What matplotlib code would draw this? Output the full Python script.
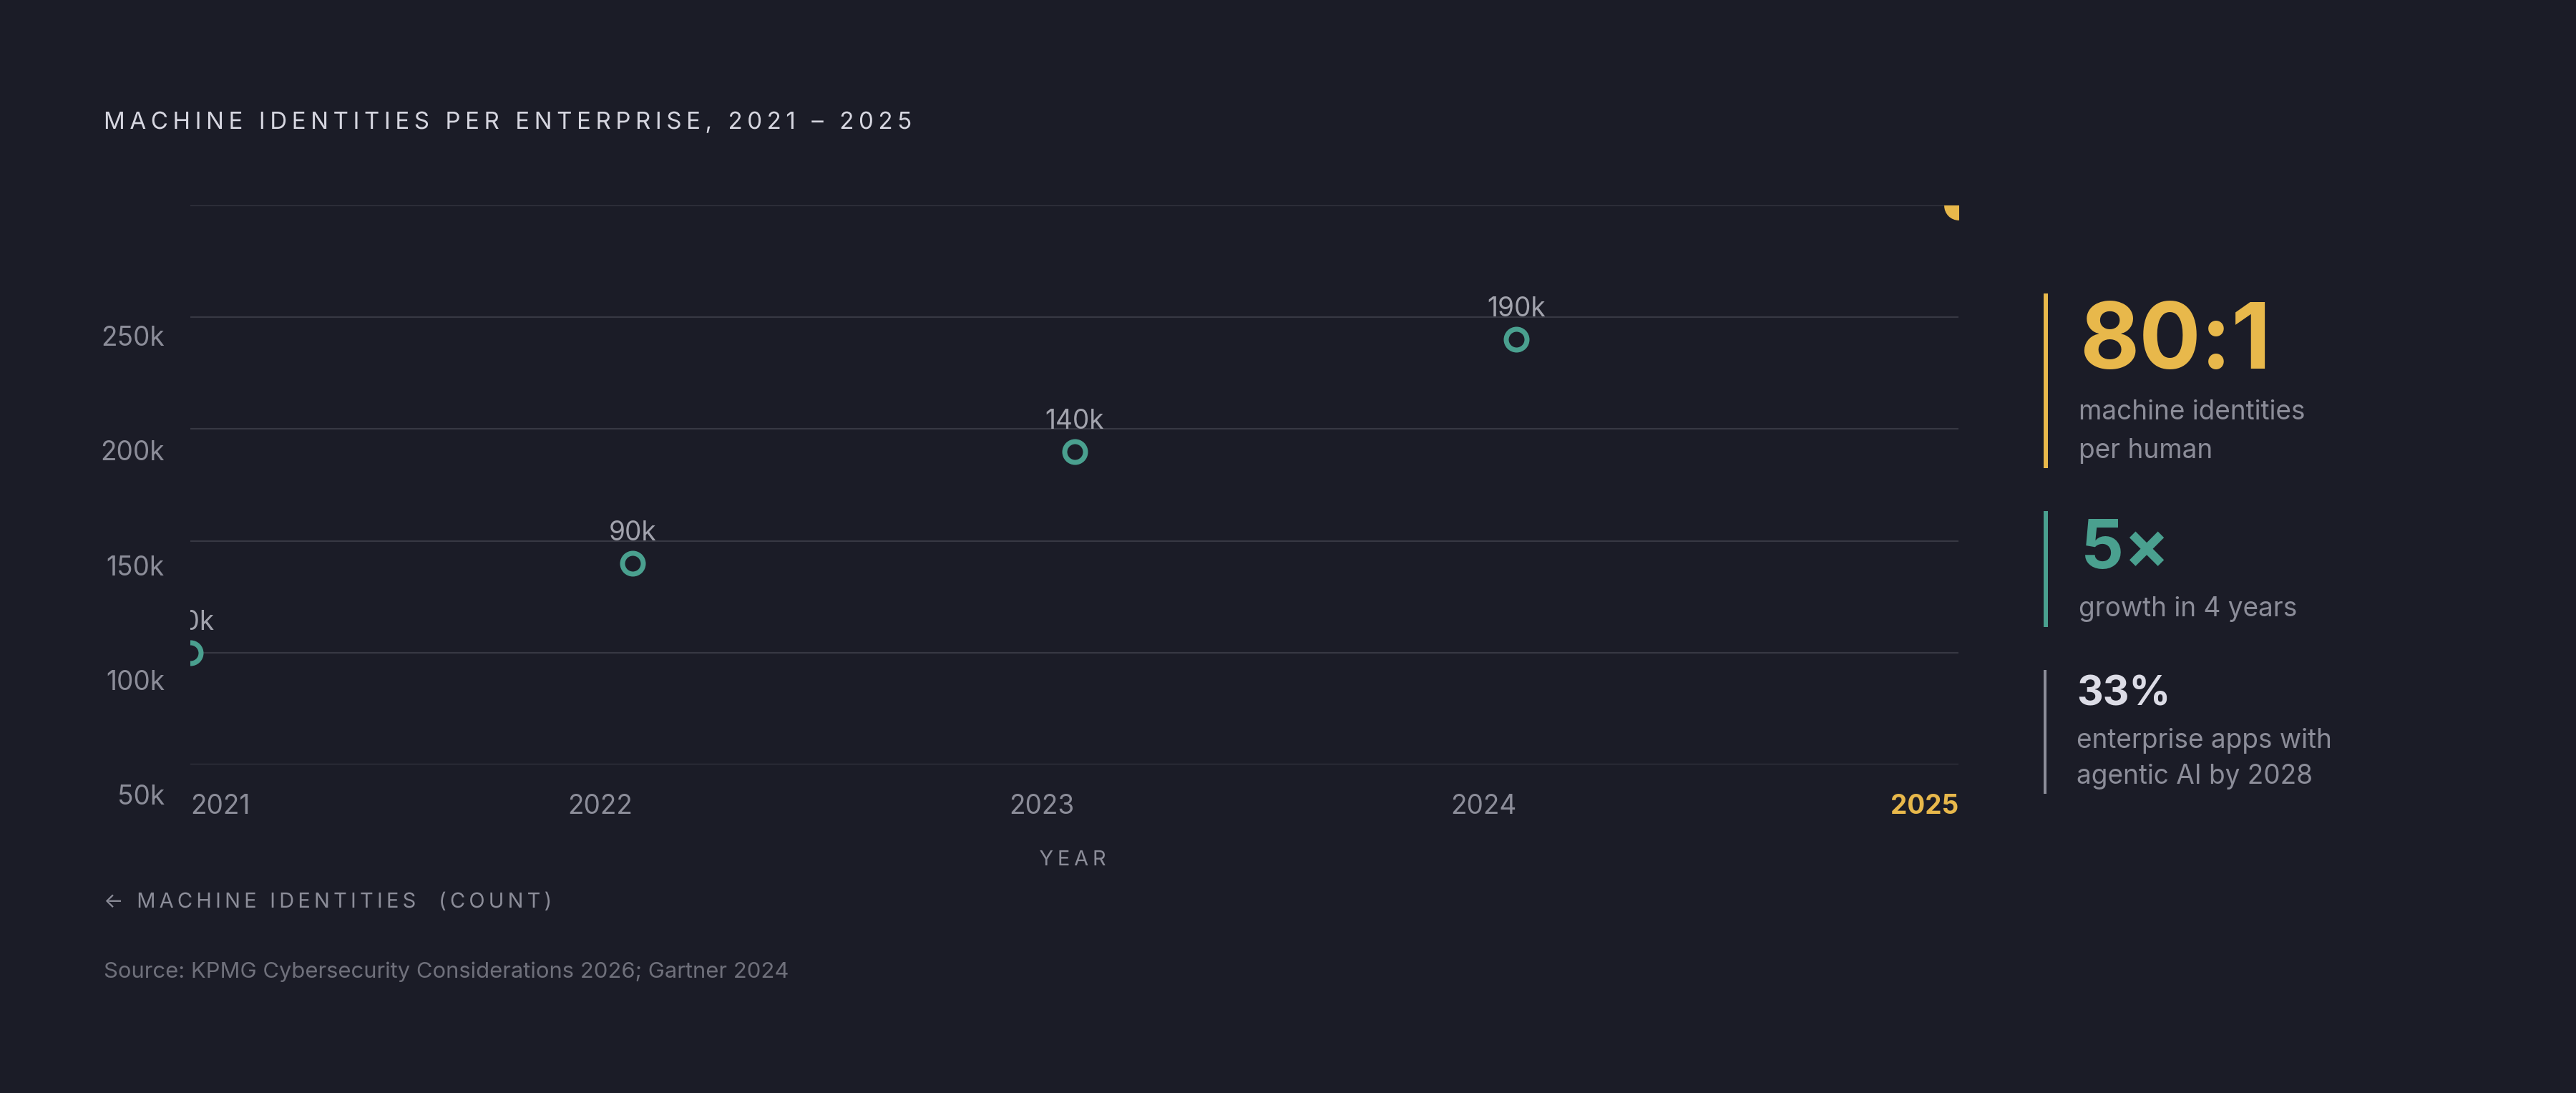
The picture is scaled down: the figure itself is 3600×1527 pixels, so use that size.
import matplotlib
matplotlib.use("Agg")
import numpy as np
import matplotlib.pyplot as plt
import matplotlib.transforms as mtransforms
from matplotlib.patches import Rectangle
from matplotlib.patheffects import AbstractPathEffect
from matplotlib.path import Path
from matplotlib.textpath import TextPath
from matplotlib.font_manager import FontProperties

# ---------------- data ----------------
years = [2021, 2022, 2023, 2024, 2025]
identities = [50000, 90000, 140000, 190000, 250000]
grid_values = [0, 50000, 100000, 150000, 200000, 250000]
y_label_values = [50000, 100000, 150000, 200000, 250000]
y_tick_labels = ["50k", "100k", "150k", "200k", "250k"]
x_tick_labels = ["2021", "2022", "2023", "2024", "2025"]

stat_values = ["80:1", "5×", "33%"]
stat_captions = [["machine identities", "per human"],
                 ["growth in 4 years"],
                 ["enterprise apps with", "agentic AI by 2028"]]

title = "MACHINE IDENTITIES PER ENTERPRISE, 2021 – 2025"
x_title = "YEAR"
y_title = "← MACHINE IDENTITIES  (COUNT)"
source = "Source: KPMG Cybersecurity Considerations 2026; Gartner 2024"

# ---------------- style ----------------
BG = "#1b1c27"
GRID = "#373843"
TICK = "#8c8d99"
VALUE = "#a2a3ad"
TITLE = "#d6d6e0"
SOURCE = "#6f707b"
TEAL = "#4aa08f"
YELLOW = "#e8b84b"
WHITE = "#dcdce6"
FAMILY = ["Inter", "DejaVu Sans"]

plt.rcParams["font.family"] = FAMILY

W, H, DPI = 3600, 1527, 200
fig = plt.figure(figsize=(W / DPI, H / DPI), dpi=DPI, facecolor=BG)


def fx(x):
    return x / W


def fy(y):
    return 1 - y / H


def pt(px):
    return px * 72 / DPI


def shift(px_x, px_y):
    return mtransforms.ScaledTranslation(px_x / DPI, -px_y / DPI, fig.dpi_scale_trans)


class LetterSpacing(AbstractPathEffect):
    """Spread the glyphs of a single text apart (CSS-like letter-spacing)."""

    def __init__(self, text, spacing_em, align="left"):
        super().__init__()
        prop = FontProperties(family=FAMILY, size=10)
        counts = [0]
        for i in range(1, len(text) + 1):
            tp = TextPath((0, 0), text[:i], prop=prop)
            c = tp.codes
            counts.append(0 if c is None else int(np.sum(c == Path.MOVETO)))
        self._bounds = np.array(counts)
        self._sp = spacing_em * 100.0  # text-path units: 1 em = 100
        self._n = len(text)
        self._align = align

    def draw_path(self, renderer, gc, tpath, affine, rgbFace=None):
        verts = np.array(tpath.vertices, dtype=float)
        codes = tpath.codes
        if codes is not None and len(verts):
            starts = np.flatnonzero(codes == Path.MOVETO)
            cidx = np.searchsorted(starts, np.arange(len(verts)), side="right") - 1
            cidx = np.clip(cidx, 0, None)
            gidx = np.searchsorted(self._bounds, np.arange(len(starts)),
                                   side="right") - 1
            gi = gidx[cidx]
            off = gi * self._sp
            if self._align == "center":
                off = off - (self._n - 1) * self._sp / 2.0
            verts[:, 0] += off
        renderer.draw_path(gc, Path(verts, codes), affine, rgbFace)


# ---------------- axes ----------------
L, R, T, B = 266, 2737, 287, 1068
ax = fig.add_axes([fx(L), fy(B), (R - L) / W, (B - T) / H])
ax.set_facecolor(BG)
for s in ax.spines.values():
    s.set_visible(False)
ax.set_xlim(years[0], years[-1])
ax.set_ylim(grid_values[0], grid_values[-1])

ax.set_yticks(grid_values, [""] * len(grid_values))
ax.set_xticks(years, x_tick_labels)
ax.grid(axis="y", color=GRID, lw=pt(2.2))
ax.grid(axis="x", visible=False)
ax.set_axisbelow(True)
ax.tick_params(axis="y", length=0)
ax.tick_params(axis="x", length=0, pad=pt(69), labelsize=pt(37), labelcolor=TICK)

xl = ax.get_xticklabels()
for i, lab in enumerate(xl):
    lab.set_va("baseline")
    lab.set_ha("left" if i == 0 else "right")
xl[-1].set_color(YELLOW)
xl[-1].set_fontweight("bold")

# y-axis value labels (their own scale, as in the original)
LB_TOP, LB_BOT = 483, 1124
lax = fig.add_axes([fx(L), fy(LB_BOT), (R - L) / W, (LB_BOT - LB_TOP) / H],
                   frameon=False, zorder=-1)
lax.set_ylim(y_label_values[0], y_label_values[-1])
lax.set_xticks([])
lax.set_yticks(y_label_values, y_tick_labels)
lax.tick_params(axis="y", length=0, pad=pt(36), labelsize=pt(37), labelcolor=TICK)
for lab in lax.get_yticklabels():
    lab.set_va("baseline")

# points
ax.plot(years[:-1], identities[:-1], "o", ls="none", ms=pt(29), mfc=BG,
        mec=TEAL, mew=pt(7), zorder=3)
ax.plot(years[-1:], identities[-1:], "o", ls="none", ms=pt(38), color=YELLOW,
        zorder=3)

for x, v in zip(years, identities):
    ax.text(x, v, f"{v // 1000}k", ha="center", va="baseline", fontsize=pt(37),
            color=VALUE, clip_on=True,
            transform=ax.transData + shift(0, -32), zorder=4)

# ---------------- texts ----------------
fig.text(fx(145), fy(180), title, ha="left", va="baseline", fontsize=pt(33),
         color=TITLE, path_effects=[LetterSpacing(title, 0.2)])
fig.text(fx(1499), fy(1209), x_title, ha="center", va="baseline",
         fontsize=pt(29), color=TICK,
         path_effects=[LetterSpacing(x_title, 0.2, align="center")])
fig.text(fx(145), fy(1268), y_title, ha="left", va="baseline",
         fontsize=pt(29), color=TICK, path_effects=[LetterSpacing(y_title, 0.18)])
fig.text(fx(145), fy(1366), source, ha="left", va="baseline",
         fontsize=pt(31), color=SOURCE)

# ---------------- right panel ----------------
bars = [(2856, 410, 654, 6, YELLOW), (2856, 714, 876, 6, TEAL),
        (2856, 936, 1109, 4, TICK)]
for x0, y0, y1, w, c in bars:
    fig.add_artist(Rectangle((fx(x0), fy(y1)), w / W, (y1 - y0) / H,
                             transform=fig.transFigure, color=c, lw=0))

big = [(2906, 515, 128, YELLOW), (2908, 794, 94, TEAL), (2902, 986, 57, WHITE)]
cap_lines = [[586, 640], [861], [1045, 1095]]
cap_x = [2905, 2905, 2902]
for (x, yb, size, c), val, caps, ys, cx in zip(big, stat_values, stat_captions,
                                                cap_lines, cap_x):
    fig.text(fx(x), fy(yb), val, ha="left", va="baseline", fontsize=pt(size),
             color=c, fontweight="bold")
    for line, yl in zip(caps, ys):
        fig.text(fx(cx), fy(yl), line, ha="left", va="baseline",
                 fontsize=pt(37), color=TICK)

fig.savefig("out.png", dpi=DPI, facecolor=BG)
